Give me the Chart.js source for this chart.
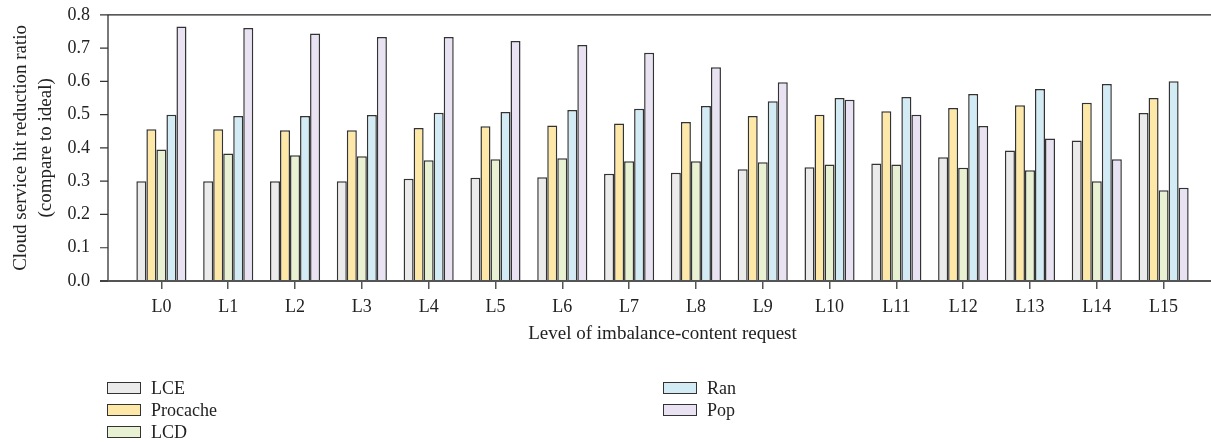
<!DOCTYPE html>
<html>
<head>
<meta charset="utf-8">
<script src="https://cdn.jsdelivr.net/npm/chart.js@4"></script>
<style>
  body { margin: 0; background: #fff; }
  #wrap { position: relative; width: 1211px; height: 443px; }
  #legend { position: absolute; left: 0; top: 0; font-family: "Liberation Serif", serif; font-size: 18px; color: #222; }
  .item { position: absolute; white-space: nowrap; line-height: 20px; height: 20px; }
  .box { display: inline-block; width: 32px; height: 10px; border: 1.5px solid #333; vertical-align: middle; margin-right: 10px; position: relative; top: -2px; }
</style>
</head>
<body>
<div id="wrap">
  <canvas id="myChart" width="1211" height="443"></canvas>
  <div id="legend"></div>
</div>
<script>
var categories = ['L0', 'L1', 'L2', 'L3', 'L4', 'L5', 'L6', 'L7', 'L8', 'L9', 'L10', 'L11', 'L12', 'L13', 'L14', 'L15'];
var seriesNames = ['LCE', 'Procache', 'LCD', 'Ran', 'Pop'];
var seriesColors = ['#ebebeb', '#fde8a8', '#e8f1d1', '#d3ebf4', '#e8e2f2'];

var lce      = [0.300, 0.300, 0.300, 0.300, 0.307, 0.310, 0.312, 0.322, 0.325, 0.336, 0.342, 0.353, 0.372, 0.392, 0.422, 0.505];
var procache = [0.456, 0.456, 0.453, 0.453, 0.460, 0.465, 0.467, 0.473, 0.478, 0.496, 0.500, 0.510, 0.520, 0.528, 0.536, 0.550];
var lcd      = [0.395, 0.383, 0.378, 0.375, 0.363, 0.366, 0.369, 0.360, 0.360, 0.357, 0.350, 0.350, 0.340, 0.333, 0.300, 0.273];
var ran      = [0.500, 0.496, 0.496, 0.499, 0.506, 0.508, 0.514, 0.518, 0.526, 0.540, 0.550, 0.553, 0.562, 0.577, 0.592, 0.600];
var pop      = [0.765, 0.760, 0.744, 0.733, 0.733, 0.721, 0.709, 0.686, 0.642, 0.597, 0.545, 0.500, 0.466, 0.428, 0.366, 0.280];

var yTicks = [0, 0.1, 0.2, 0.3, 0.4, 0.5, 0.6, 0.7, 0.8];

var allSeries = [lce, procache, lcd, ran, pop];
var datasets = allSeries.map(function(d, i) {
    return {
        label: seriesNames[i],
        data: d,
        backgroundColor: seriesColors[i],
        borderColor: '#333',
        borderWidth: 1.5,
        borderSkipped: 'bottom'
    };
});

var serif = '"Liberation Serif", serif';

// axis frame: y axis line, top line, x axis line and y tick marks
var framePlugin = {
    id: 'frame',
    afterDatasetsDraw: function(chart) {
        var ctx = chart.ctx;
        var a = chart.chartArea;
        var y = chart.scales.y;
        var left = 108;
        ctx.save();
        ctx.strokeStyle = '#222';
        ctx.lineWidth = 1.2;
        ctx.beginPath();
        ctx.moveTo(left, a.top);
        ctx.lineTo(chart.width, a.top);
        ctx.moveTo(left, a.top);
        ctx.lineTo(left, a.bottom);
        ctx.stroke();
        ctx.strokeStyle = '#555';
        ctx.lineWidth = 1.8;
        ctx.beginPath();
        ctx.moveTo(left - 8, a.bottom);
        ctx.lineTo(chart.width, a.bottom);
        ctx.stroke();
        ctx.lineWidth = 1.2;
        ctx.strokeStyle = '#333';
        ctx.beginPath();
        yTicks.forEach(function(v) {
            var py = y.getPixelForValue(v);
            ctx.moveTo(left - 8, py);
            ctx.lineTo(left, py);
        });
        ctx.stroke();
        ctx.restore();
    }
};

var ctx = document.getElementById('myChart').getContext('2d');
var chart = new Chart(ctx, {
    type: 'bar',
    data: { labels: categories, datasets: datasets },
    options: {
        responsive: false,
        animation: false,
        layout: { padding: { top: 13, right: 14, bottom: 98, left: 0 } },
        datasets: { bar: { categoryPercentage: 0.75, barPercentage: 1.0 } },
        plugins: {
            legend: { display: false },
            tooltip: { enabled: false }
        },
        scales: {
            x: {
                offset: true,
                grid: { display: true, offset: false, drawOnChartArea: false, tickLength: 8, color: '#555', lineWidth: 1.5 },
                border: { display: false },
                ticks: { color: '#222', font: { family: serif, size: 18 }, padding: 7 },
                title: { display: true, text: 'Level of imbalance-content request', color: '#222', font: { family: serif, size: 19 }, padding: 0 },
                afterFit: function(scale) { scale.height = 64; }
            },
            y: {
                min: 0,
                max: 0.8,
                afterBuildTicks: function(scale) {
                    scale.ticks = yTicks.map(function(v) { return { value: v }; });
                },
                grid: { display: true, drawOnChartArea: false, tickLength: 34, color: 'rgba(0,0,0,0)' },
                border: { display: false },
                ticks: {
                    color: '#222',
                    font: { family: serif, size: 18 },
                    padding: 4,
                    callback: function(v) { return v.toFixed(1); }
                },
                title: {
                    display: true,
                    text: ['Cloud service hit reduction ratio', '(compare to ideal)'],
                    color: '#222',
                    font: { family: serif, size: 19, lineHeight: 1.35 },
                    padding: { top: 8, bottom: 0 }
                },
                afterFit: function(scale) { scale.width = 128; }
            }
        }
    },
    plugins: [framePlugin]
});

// html legend, two columns of three rows
var legendEl = document.getElementById('legend');
var colX = [107, 663];
var rowY = [378, 400, 422];
chart.data.datasets.forEach(function(ds, i) {
    var col = Math.floor(i / 3);
    var row = i % 3;
    var item = document.createElement('div');
    item.className = 'item';
    item.style.left = colX[col] + 'px';
    item.style.top = rowY[row] + 'px';
    var box = document.createElement('span');
    box.className = 'box';
    box.style.background = ds.backgroundColor;
    item.appendChild(box);
    item.appendChild(document.createTextNode(ds.label));
    legendEl.appendChild(item);
});
</script>
</body>
</html>
